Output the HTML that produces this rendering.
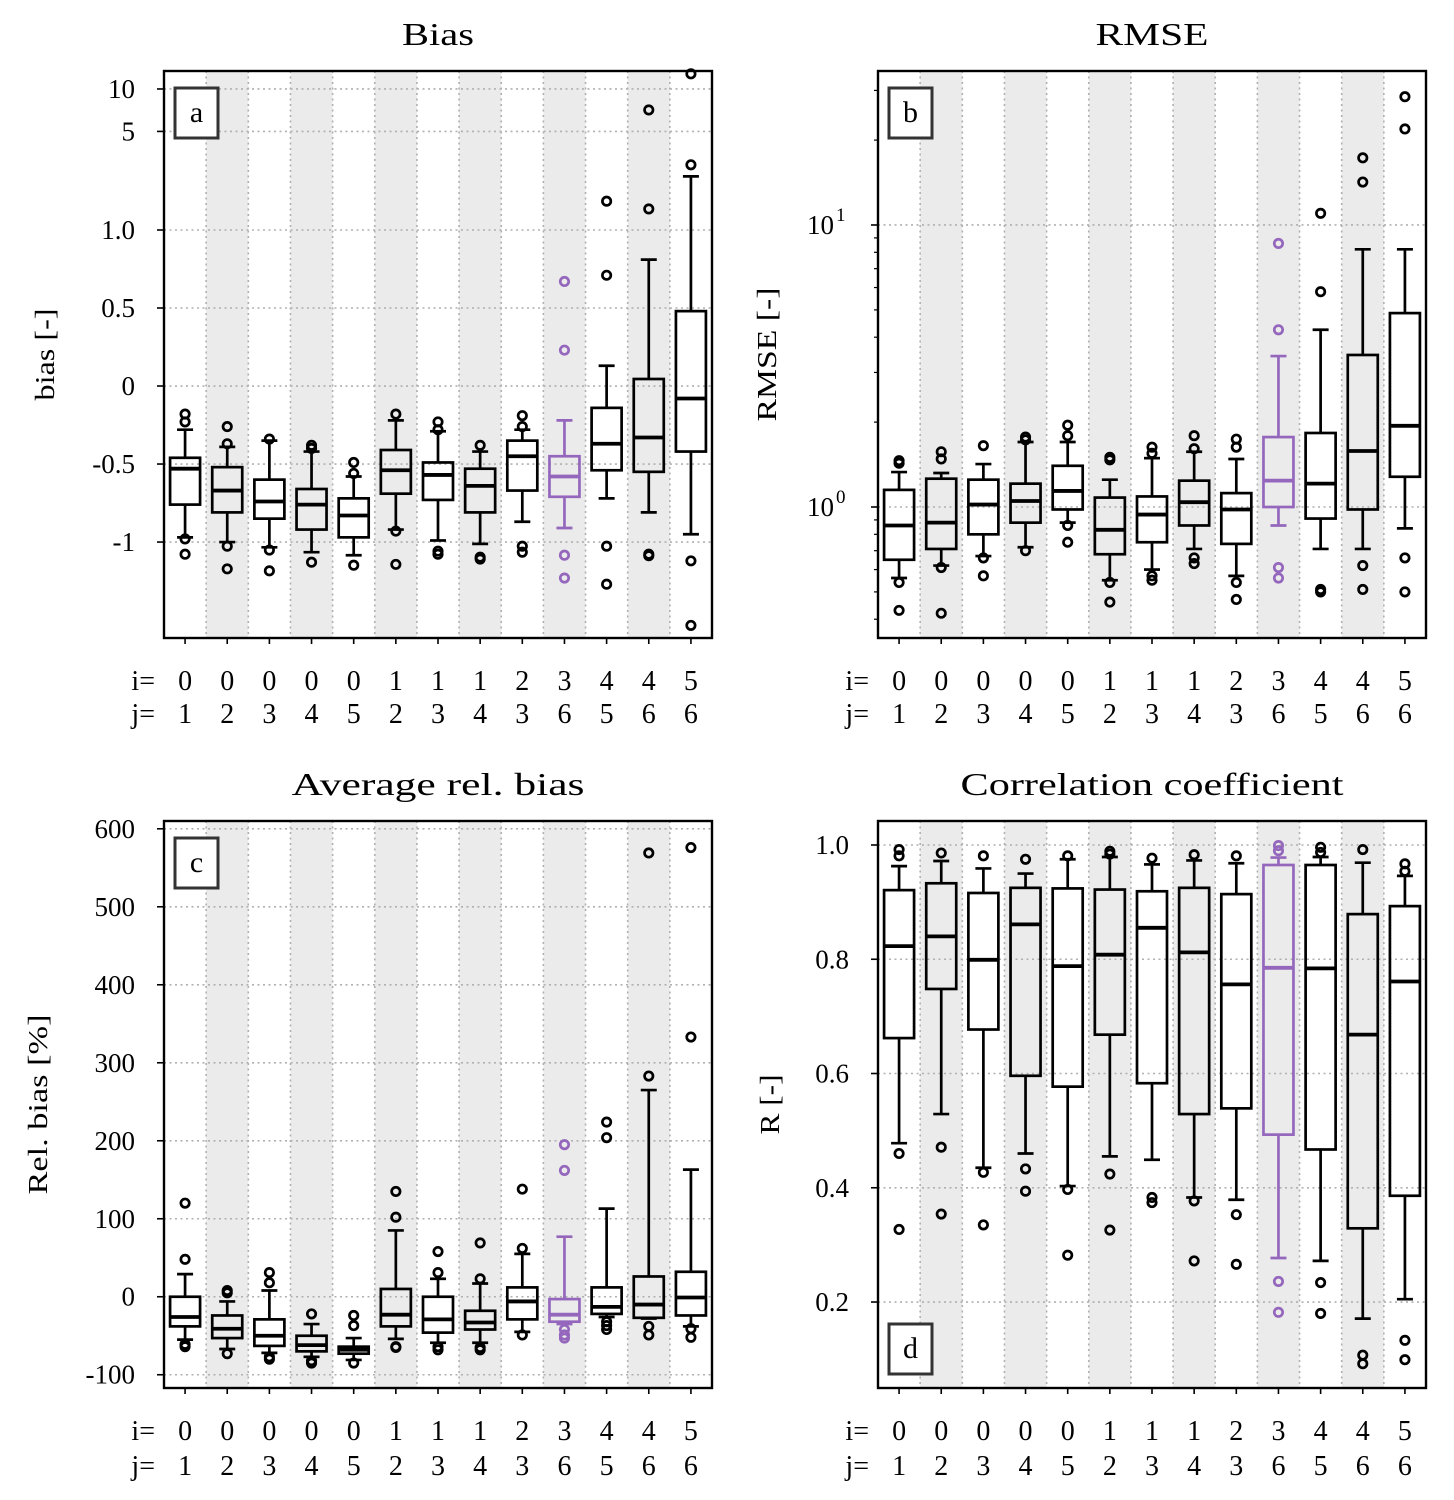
<!DOCTYPE html>
<html><head><meta charset="utf-8"><style>
html,body{margin:0;padding:0;background:#fff;}
svg{display:block;font-family:"Liberation Serif","DejaVu Serif",serif;}
</style></head><body>
<svg id="fig" width="1454" height="1500" viewBox="0 0 1454 1500" xmlns="http://www.w3.org/2000/svg"></svg>
<script>
const catI = [0,0,0,0,0,1,1,1,2,3,4,4,5];
const catJ = [1,2,3,4,5,2,3,4,3,6,5,6,6];
const highlightIndex = 9;

// Panel a: bias
const aLow  = [-0.97,-1.0,-1.09,-1.18,-1.24,-0.92,-0.99,-1.03,-0.87,-0.91,-0.72,-0.81,-0.95];
const aQ1   = [-0.76,-0.81,-0.85,-0.92,-0.97,-0.69,-0.73,-0.81,-0.67,-0.71,-0.54,-0.55,-0.42];
const aMed  = [-0.53,-0.67,-0.74,-0.76,-0.83,-0.54,-0.57,-0.64,-0.45,-0.58,-0.37,-0.33,-0.08];
const aQ3   = [-0.46,-0.52,-0.60,-0.66,-0.72,-0.41,-0.49,-0.53,-0.35,-0.45,-0.14,0.045,0.48];
const aHigh = [-0.28,-0.39,-0.35,-0.42,-0.58,-0.22,-0.29,-0.42,-0.28,-0.22,0.13,0.81,2.4];
const aOut  = [[-0.18,-0.23,-0.98,-1.22],[-0.26,-0.37,-1.07,-1.55],[-0.34,-1.14,-1.6],[-0.38,-0.40,-1.39],[-0.49,-0.56,-1.46],[-0.18,-0.93,-1.44],[-0.23,-0.28,-1.16,-1.22],[-0.38,-1.28,-1.32],[-0.19,-0.26,-1.07,-1.18],[0.67,0.23,-1.24,-1.80],[1.6,0.71,-1.07,-1.99],[7.1,1.41,-1.22,-1.25],[12.8,2.9,-1.36,-3.9]];
const aTicks = [-1,-0.5,0,0.5,1,5,10];
const aTickLabels = ["-1","-0.5","0","0.5","1.0","5","10"];

// Panel b: RMSE
const bLow  = [0.56,0.62,0.67,0.72,0.88,0.55,0.60,0.71,0.57,0.86,0.71,0.71,0.84];
const bQ1   = [0.65,0.71,0.80,0.88,0.98,0.68,0.75,0.86,0.74,1.0,0.91,0.98,1.28];
const bMed  = [0.86,0.88,1.02,1.05,1.14,0.83,0.94,1.04,0.98,1.24,1.21,1.58,1.94];
const bQ3   = [1.15,1.26,1.25,1.21,1.40,1.08,1.09,1.24,1.12,1.77,1.83,3.46,4.87];
const bHigh = [1.33,1.32,1.42,1.70,1.70,1.25,1.49,1.57,1.48,3.43,4.25,8.2,8.2];
const bOut  = [[1.43,1.46,0.54,0.43],[1.57,1.48,0.61,0.42],[1.65,0.66,0.57],[1.77,1.73,0.70],[1.95,1.79,0.86,0.75],[1.50,1.47,0.54,0.46],[1.63,1.55,0.57,0.55],[1.79,1.61,0.66,0.63],[1.74,1.63,0.54,0.47],[8.6,4.25,0.61,0.56],[11.0,5.8,0.51,0.50],[17.3,14.2,0.62,0.51],[28.5,21.9,0.66,0.50]];
const bTicks = [1,10];
const bTickExp = ["0","1"];
const bMinorTicks = [0.4,0.5,0.6,0.7,0.8,0.9,2,3,4,5,6,7,8,9,20,30];

// Panel c: relative bias
const cLow  = [-55,-67,-72,-77,-81,-54,-59,-59,-45,-35,-26,-28,-38];
const cQ1   = [-38,-53,-63,-70,-73,-38,-46,-42,-29,-32,-22,-27,-24];
const cMed  = [-26,-41,-50,-62,-68,-23,-29,-33,-6,-23,-13,-10,-1];
const cQ3   = [0,-24,-29,-50,-64,10,0,-18,12,-3,12,26,32];
const cHigh = [29,-6,8,-35,-53,85,23,17,55,77,113,265,163];
const cOut  = [[120,48,-61,-64],[8,5,-73],[31,18,-77,-80],[-22,-82,-85],[-24,-37,-85],[135,102,-64,-65],[58,31,-64,-68],[69,23,-65,-68],[138,62,-49],[195,162,-42,-49,-53],[224,204,-32,-37,-42],[569,283,-38,-49],[576,333,-41,-52]];
const cTicks = [-100,0,100,200,300,400,500,600];

// Panel d: correlation
const dLow  = [0.478,0.529,0.435,0.460,0.403,0.455,0.449,0.383,0.379,0.277,0.272,0.171,0.205];
const dQ1   = [0.662,0.748,0.677,0.596,0.577,0.668,0.583,0.529,0.539,0.493,0.467,0.329,0.386];
const dMed  = [0.823,0.840,0.799,0.861,0.788,0.808,0.855,0.812,0.756,0.785,0.784,0.668,0.761];
const dQ3   = [0.921,0.933,0.916,0.925,0.924,0.922,0.919,0.925,0.914,0.965,0.965,0.879,0.893];
const dHigh = [0.963,0.972,0.959,0.950,0.975,0.979,0.966,0.973,0.968,0.978,0.979,0.969,0.946];
const dOut  = [[0.992,0.981,0.460,0.327],[0.986,0.471,0.354],[0.981,0.427,0.335],[0.975,0.433,0.394],[0.981,0.397,0.282],[0.989,0.984,0.424,0.326],[0.977,0.383,0.374],[0.983,0.377,0.272],[0.981,0.353,0.266],[0.999,0.990,0.236,0.182],[0.996,0.987,0.234,0.180],[0.992,0.107,0.092],[0.967,0.954,0.133,0.099]];
const dTicks = [0.2,0.4,0.6,0.8,1.0];
const dTickLabels = ["0.2","0.4","0.6","0.8","1.0"];

const NS = "http://www.w3.org/2000/svg";
const svg = document.getElementById('fig');
function el(tag, attrs, parent, text){
  const e = document.createElementNS(NS, tag);
  for (const k in attrs) e.setAttribute(k, attrs[k]);
  if (text !== undefined) e.textContent = text;
  (parent || svg).appendChild(e);
  return e;
}

function symU(v){ const a=Math.abs(v); return a<=1 ? v : Math.sign(v)*(1+Math.log10(a)*141/156); }
function makeScale(y0,y1,f,dmin,dmax){ return v => y1 - (f(v)-dmin)/(dmax-dmin)*(y1-y0); }

const panels = [
  {key:'a', title:'Bias', tw:72, ylabel:'bias [-]', yw:92, x0:164, x1:712, y0:71, y1:638, yl:45,
   y: makeScale(71,638,symU,-1.615,2.019),
   low:aLow,q1:aQ1,med:aMed,q3:aQ3,high:aHigh,out:aOut, ticks:aTicks, labels:aTickLabels, box:[175,88], xlabY:[680,713]},
  {key:'b', title:'RMSE', tw:113, ylabel:'RMSE [-]', yw:134, x0:878, x1:1426, y0:71, y1:638, yl:767,
   y: makeScale(71,638,v=>Math.log10(v),-0.4645,1.546),
   low:bLow,q1:bQ1,med:bMed,q3:bQ3,high:bHigh,out:bOut, ticks:bTicks, exp:bTickExp, minor:bMinorTicks, box:[889,88], xlabY:[680,713]},
  {key:'c', title:'Average rel. bias', tw:293, ylabel:'Rel. bias [%]', yw:180, x0:164, x1:712, y0:821, y1:1388, yl:38,
   y: makeScale(821,1388,v=>v,-117,610),
   low:cLow,q1:cQ1,med:cMed,q3:cQ3,high:cHigh,out:cOut, ticks:cTicks, labels:cTicks.map(String), box:[175,838], xlabY:[1430,1465]},
  {key:'d', title:'Correlation coefficient', tw:383, ylabel:'R [-]', yw:60, x0:878, x1:1426, y0:821, y1:1388, yl:770,
   y: makeScale(821,1388,v=>v,0.0495,1.042),
   low:dLow,q1:dQ1,med:dMed,q3:dQ3,high:dHigh,out:dOut, ticks:dTicks, labels:dTickLabels, box:[889,1324], xlabY:[1430,1465]}
];

panels.forEach(p => {
  const g = el('g', {});
  
  
  const n = catI.length, w = (p.x1-p.x0)/n;
  const cx = i => p.x0 + (i+0.5)*w;
  for (let i=1;i<n;i+=2){
    const r = el('rect',{x:p.x0+i*w,y:p.y0,width:w,height:p.y1-p.y0,fill:'#ebebeb'},g);
    
    
  }
  for (let k=1;k<n;k++){
    const x = p.x0+k*w;
    el('line',{x1:x,x2:x,y1:p.y0,y2:p.y1,stroke:'#b0b0b0','stroke-width':1.6,'stroke-dasharray':'2,3.5'},g);
  }
  p.ticks.forEach((t,ti) => {
    const y = p.y(t);
    const gl = el('line',{x1:p.x0,x2:p.x1,y1:y,y2:y,stroke:'#b0b0b0','stroke-width':1.6,'stroke-dasharray':'2,3.5'},g);
    
    
    el('line',{x1:p.x0-7,x2:p.x0,y1:y,y2:y,stroke:'#000','stroke-width':1.6},g);
    let lab;
    if (p.exp){
      lab = el('text',{x:p.x0-44,y:y+9,'text-anchor':'end','font-size':27},g,'10');
      el('text',{x:p.x0-42,y:y-4,'text-anchor':'start','font-size':19},g,p.exp[ti]);
    } else {
      lab = el('text',{x:p.x0-29,y:y+9,'text-anchor':'end','font-size':27},g,p.labels[ti]);
    }
    
    
  });
  if (p.minor) p.minor.forEach(t => {
    const y = p.y(t);
    el('line',{x1:p.x0-4,x2:p.x0,y1:y,y2:y,stroke:'#000','stroke-width':1.2},g);
  });
  for (let i=0;i<n;i++){
    const col = i===highlightIndex ? '#9467bd' : '#000';
    const bg = el('g',{},g);
    
    
    const x = cx(i), bw = 30, cw = 16;
    const yl=p.y(p.low[i]), yq1=p.y(p.q1[i]), ym=p.y(p.med[i]), yq3=p.y(p.q3[i]), yh=p.y(p.high[i]);
    el('line',{x1:x,x2:x,y1:yq1,y2:yl,stroke:col,'stroke-width':2.7},bg);
    el('line',{x1:x,x2:x,y1:yq3,y2:yh,stroke:col,'stroke-width':2.7},bg);
    el('line',{x1:x-cw/2,x2:x+cw/2,y1:yl,y2:yl,stroke:col,'stroke-width':2.7},bg);
    el('line',{x1:x-cw/2,x2:x+cw/2,y1:yh,y2:yh,stroke:col,'stroke-width':2.7},bg);
    el('rect',{x:x-bw/2,y:yq3,width:bw,height:Math.max(0.5,yq1-yq3),fill:'none',stroke:col,'stroke-width':2.7},bg);
    el('line',{x1:x-bw/2,x2:x+bw/2,y1:ym,y2:ym,stroke:col,'stroke-width':3.8},bg);
    p.out[i].forEach(v => {
      const c = el('circle',{cx:x,cy:p.y(v),r:4.2,fill:'none',stroke:col,'stroke-width':2.7},bg);
      
      
    });
    const t1 = el('text',{x:x,y:p.xlabY[0]+10,'text-anchor':'middle','font-size':28},g,String(catI[i]));
    
    
    const t2 = el('text',{x:x,y:p.xlabY[1]+10,'text-anchor':'middle','font-size':28},g,String(catJ[i]));
    
    
    el('line',{x1:x,x2:x,y1:p.y1,y2:p.y1+6,stroke:'#000','stroke-width':1.6},g);
  }
  const ti = el('text',{x:p.x0-9,y:p.xlabY[0]+10,'font-size':28,'text-anchor':'end'},g,'i=');
  
  
  const tj = el('text',{x:p.x0-9,y:p.xlabY[1]+10,'font-size':28,'text-anchor':'end'},g,'j=');
  
  
  const fr = el('rect',{x:p.x0,y:p.y0,width:p.x1-p.x0,height:p.y1-p.y0,fill:'none',stroke:'#000','stroke-width':2.4},g);
  
  
  const lb = el('rect',{x:p.box[0],y:p.box[1],width:43,height:50,fill:'#fff',stroke:'#333','stroke-width':3},g);
  
  
  const lt = el('text',{x:p.box[0]+21.5,y:p.box[1]+34,'text-anchor':'middle','font-size':30},g,p.key);
  
  
  const tt = el('text',{x:(p.x0+p.x1)/2-p.tw/2,y:p.y0-26,'font-size':32,textLength:p.tw,lengthAdjust:'spacingAndGlyphs'},g,p.title);
  
  
  const ym = (p.y0+p.y1)/2;
  const yt = el('text',{x:p.yl-p.yw/2,y:ym,'font-size':27,textLength:p.yw,lengthAdjust:'spacingAndGlyphs',transform:'rotate(-90 '+p.yl+' '+ym+')','dominant-baseline':'central'},g,p.ylabel);
  
  
});
</script>
</body></html>
